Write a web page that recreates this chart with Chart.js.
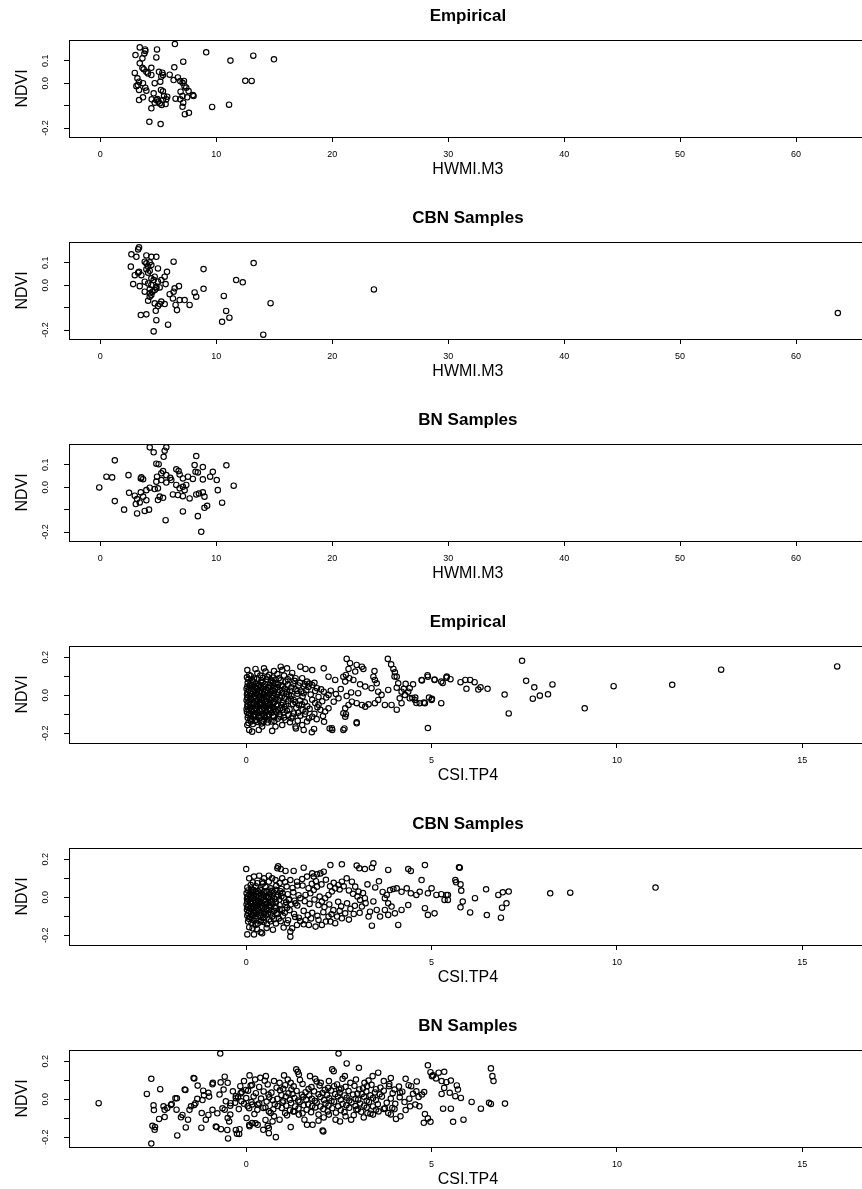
<!DOCTYPE html>
<html>
<head>
<meta charset="utf-8">
<script src="https://cdn.jsdelivr.net/npm/chart.js"></script>
<style>
    body { margin: 0; background: #ffffff; }
    #contenedor { width: 862px; height: 1189px; overflow: hidden; }
    canvas { display: block; }
</style>
</head>
<body>
<div id="contenedor">
    <canvas id="grafica1" width="872" height="202"></canvas>
    <canvas id="grafica2" width="872" height="202"></canvas>
    <canvas id="grafica3" width="872" height="202"></canvas>
    <canvas id="grafica4" width="872" height="202"></canvas>
    <canvas id="grafica5" width="872" height="202"></canvas>
    <canvas id="grafica6" width="872" height="202"></canvas>
</div>
<script>
// Titulos de cada panel
const titulos = ['Empirical', 'CBN Samples', 'BN Samples', 'Empirical', 'CBN Samples', 'BN Samples'];

// Ejes
const ticksHWMI = [0, 10, 20, 30, 40, 50, 60];
const ticksCSI = [0, 5, 10, 15];
const rangoHWMI = [-2.69, 66.1];
const rangoCSI = [-4.78, 16.74];
const ticksNdviSup = [-0.2, -0.1, 0.0, 0.1];
const etiquetasNdviSup = ['-0.2', '', '0.0', '0.1'];
const rangoNdviSup = [-0.24, 0.193];
const ticksNdviInf = [-0.2, -0.1, 0.0, 0.1, 0.2];
const etiquetasNdviInf = ['-0.2', '', '0.0', '', '0.2'];
const rangoNdviInf = [-0.252, 0.26];

// Puntos [HWMI.M3, NDVI]
const empiricoHWMI = [[3.41,0.160],[3.87,0.151],[3.89,0.144],[3.81,0.133],[3.04,0.126],[3.64,0.111],[4.90,0.151],[4.84,0.115],[6.44,0.175],[9.14,0.138],[7.16,0.096],[11.23,0.101],[13.20,0.123],[14.98,0.107],[3.41,0.089],[3.64,0.069],[3.75,0.062],[3.98,0.051],[4.12,0.044],[4.41,0.037],[2.98,0.046],[4.41,0.069],[5.07,0.051],[5.36,0.047],[5.27,0.029],[5.41,0.037],[6.39,0.071],[5.99,0.038],[3.21,0.022],[3.35,0.007],[3.24,-0.008],[3.69,0.000],[3.89,-0.020],[3.98,-0.033],[4.70,0.000],[5.18,0.007],[6.70,0.026],[6.90,0.010],[7.10,0.002],[7.22,0.010],[7.27,-0.013],[7.42,-0.020],[12.51,0.011],[13.06,0.010],[7.62,-0.035],[7.99,-0.053],[8.05,-0.057],[7.50,-0.063],[7.10,-0.057],[6.90,-0.072],[7.16,-0.087],[7.10,-0.105],[7.30,-0.138],[7.65,-0.132],[3.35,-0.075],[3.69,-0.063],[4.44,-0.072],[4.84,-0.075],[5.01,-0.082],[5.41,-0.075],[5.64,-0.093],[4.61,-0.045],[5.24,-0.030],[5.41,-0.036],[5.50,-0.057],[5.70,-0.072],[5.78,-0.060],[4.70,-0.087],[4.93,-0.071],[5.13,-0.090],[5.30,-0.097],[4.41,-0.112],[4.24,-0.172],[5.21,-0.182],[9.65,-0.106],[11.11,-0.096],[3.35,-0.030],[3.12,-0.013],[6.33,0.014],[6.93,-0.038],[6.50,-0.069]];

const cbnHWMI = [[3.35,0.169],[3.27,0.160],[2.69,0.138],[3.12,0.127],[3.98,0.133],[4.41,0.127],[4.84,0.127],[3.84,0.105],[3.98,0.098],[4.27,0.102],[4.13,0.083],[4.41,0.090],[6.33,0.105],[13.23,0.099],[8.91,0.072],[2.64,0.083],[3.98,0.071],[4.27,0.065],[4.98,0.075],[4.13,0.056],[5.76,0.060],[5.56,0.038],[2.98,0.045],[3.27,0.056],[3.55,0.045],[3.35,0.060],[4.41,0.031],[4.70,0.038],[4.61,0.023],[2.84,0.005],[3.41,-0.004],[4.13,0.008],[3.84,0.016],[4.41,0.001],[4.84,-0.007],[4.27,-0.018],[4.84,-0.014],[3.84,-0.029],[4.27,-0.036],[4.50,-0.029],[4.70,-0.021],[5.13,-0.010],[5.64,0.005],[5.27,0.023],[4.98,0.016],[4.27,-0.051],[4.41,-0.044],[4.13,-0.069],[4.70,-0.081],[5.13,-0.084],[5.27,-0.073],[5.56,-0.084],[4.98,-0.093],[5.99,-0.040],[6.33,-0.029],[6.42,-0.014],[6.79,-0.004],[6.27,-0.059],[6.85,-0.066],[7.28,-0.066],[6.50,-0.088],[6.62,-0.111],[7.71,-0.088],[8.14,-0.032],[8.28,-0.051],[8.91,-0.016],[3.50,-0.133],[3.98,-0.130],[4.79,-0.114],[4.84,-0.156],[5.85,-0.176],[4.61,-0.206],[10.66,-0.048],[11.72,0.023],[12.29,0.013],[10.86,-0.115],[11.14,-0.145],[10.51,-0.163],[14.69,-0.080],[14.06,-0.221],[23.60,-0.019],[63.60,-0.124]];

const bnHWMI = [[4.27,0.178],[4.61,0.156],[5.70,0.178],[5.56,0.163],[5.47,0.136],[1.26,0.120],[8.28,0.139],[10.88,0.098],[4.84,0.105],[5.04,0.103],[8.14,0.099],[8.85,0.090],[5.42,0.072],[5.27,0.062],[4.90,0.047],[5.70,0.054],[6.04,0.042],[6.56,0.080],[6.76,0.072],[6.85,0.057],[7.13,0.039],[7.57,0.047],[8.22,0.069],[8.42,0.066],[7.99,0.037],[0.54,0.047],[1.03,0.044],[2.44,0.054],[3.50,0.039],[3.70,0.036],[3.55,0.044],[9.71,0.069],[9.48,0.047],[10.05,0.032],[8.85,0.035],[-0.08,-0.001],[2.49,-0.025],[2.98,-0.038],[3.50,-0.023],[3.98,-0.013],[4.27,-0.002],[4.70,-0.008],[4.98,-0.005],[4.84,0.025],[5.27,0.032],[5.70,0.021],[6.13,0.032],[6.56,0.010],[6.85,-0.005],[7.13,0.002],[7.28,-0.013],[7.42,0.010],[6.27,-0.032],[6.70,-0.035],[7.13,-0.040],[7.71,-0.050],[8.28,-0.032],[8.51,-0.028],[8.85,-0.023],[8.99,-0.042],[10.14,-0.013],[11.51,0.007],[1.26,-0.062],[2.06,-0.100],[3.18,-0.053],[3.70,-0.042],[3.07,-0.075],[3.41,-0.068],[3.98,-0.058],[3.18,-0.117],[3.84,-0.106],[4.21,-0.100],[5.13,-0.042],[5.42,-0.047],[4.98,-0.057],[5.64,-0.147],[7.13,-0.108],[8.42,-0.129],[8.99,-0.092],[9.22,-0.083],[10.51,-0.069],[8.71,-0.199]];

// Puntos [CSI.TP4, NDVI]
const empiricoCSI = [
    [15.94,0.152],[12.81,0.135],[11.49,0.055],[9.91,0.048],[9.13,-0.069],[8.26,0.057],[8.14,0.005],[7.92,-0.002],[7.73,-0.018],[7.77,0.042],[7.55,0.076],[7.44,0.182],[7.08,-0.096],[6.97,0.004],[6.51,0.034],[6.32,0.042],[6.26,0.030],[6.16,0.069],[6.04,0.081],[5.91,0.081],[5.94,0.034],[5.78,0.069],[5.51,0.085],[5.41,0.099],[5.30,0.065],[5.08,0.083],[4.89,0.106],[4.74,0.078],[4.59,-0.041],[4.79,-0.039],[4.90,-0.173],[5.01,-0.019],[4.93,-0.012],[4.56,-0.012],[4.48,-0.014],[4.37,0.019],[4.30,0.060],[4.25,0.034],[4.06,-0.076],[4.00,0.099],
    [3.82,0.192],[3.91,0.163],[3.97,0.139],[4.01,0.121],[4.06,0.098],[3.46,0.128],[3.43,0.098],[3.47,0.081],[3.52,0.063],[2.71,0.192],[2.80,0.169],[2.98,0.160],[3.12,0.151],[3.16,0.139],[2.94,0.125],[2.76,0.139],[2.69,0.107],[2.78,0.090],[2.67,0.072],[2.89,0.081],[3.07,0.058],[3.21,0.046],[3.38,0.037],[3.56,0.019],[3.65,0.002],[3.83,0.028],[4.06,0.040],[4.19,0.019],[4.28,0.002],[4.41,-0.016],[4.55,-0.025],[4.68,-0.042],[4.82,-0.042],[5.00,-0.025],[5.26,-0.042],[4.73,0.081],[4.90,0.098],[5.08,0.081],[5.26,0.072],[5.40,0.093],[4.41,0.037],[4.50,0.058],[4.10,0.063],[4.14,-0.016],[4.19,-0.042],[3.74,-0.051],[3.92,-0.051],[3.56,-0.025],[3.47,-0.042],[3.30,-0.048],[3.21,-0.060],[3.12,-0.051],[2.98,-0.042],[2.85,-0.034],[2.76,-0.051],[2.67,-0.069],[2.62,-0.095],[2.67,-0.113],[2.98,-0.148],[2.62,-0.183],[2.31,-0.174],[2.22,-0.069],[2.13,-0.086],[2.00,-0.077],[1.78,-0.113],[1.69,-0.121],[1.64,-0.139],[1.60,-0.086],[1.42,-0.051],[1.28,-0.025],[1.15,0.002],[1.51,-0.157],[1.33,-0.165],[1.55,-0.183],[1.77,-0.195],[0.97,-0.157],[0.79,-0.165],[0.70,-0.188],[0.43,-0.165],[0.34,-0.183],[0.16,-0.192],[0.08,-0.183],[0.03,-0.157],[0.75,-0.113],[2.49,-0.016],[2.36,-0.034],[2.22,0.002],[2.09,0.019],[1.91,0.037],[1.78,0.054],[1.64,0.072],[1.51,0.090],[1.33,0.090],[1.19,0.098],[1.06,0.072],[0.88,0.090],[0.79,0.063],[0.66,0.081],[0.57,0.098],
    [0.03,0.133],[0.25,0.139],[0.48,0.142],[0.08,0.107],[0.30,0.116],[0.52,0.125],[0.75,0.128],[0.93,0.151],[0.97,0.133],[1.10,0.142],[1.46,0.151],[1.60,0.139],[1.78,0.133],[2.09,0.142],[2.22,0.098],[2.40,0.081],[2.62,0.098],[1.34,-0.175],[1.83,-0.178],[2.25,-0.175],[2.32,-0.183],[2.65,-0.175],[2.98,-0.143],[2.69,-0.100],
    [0.02,0.095],[0.12,0.102],[0.21,0.088],[0.38,0.104],[0.45,0.092],[0.62,0.108],[0.71,0.094],[0.84,0.112],[1.02,0.104],[1.24,0.118],
    [0.04,0.066],[0.11,0.058],[0.19,0.071],[0.27,0.062],[0.35,0.055],[0.44,0.068],[0.51,0.059],[0.63,0.052],[0.72,0.067],[0.86,0.058],[0.95,0.049],[1.12,0.055],[1.27,0.061],[1.41,0.052],[1.55,0.046],[1.70,0.062],
    [0.01,0.034],[0.07,0.028],[0.14,0.039],[0.22,0.025],[0.29,0.036],[0.37,0.021],[0.46,0.031],[0.54,0.026],[0.61,0.038],[0.69,0.022],[0.78,0.033],[0.91,0.027],[1.04,0.035],[1.18,0.024],[1.33,0.031],[1.48,0.019],[1.62,0.027],[1.86,0.022],[2.02,0.031],[2.28,0.024],[2.55,0.033],[2.83,0.015],
    [0.02,0.004],[0.09,-0.003],[0.16,0.008],[0.24,-0.006],[0.31,0.002],[0.40,-0.008],[0.47,0.006],[0.56,-0.002],[0.64,0.009],[0.73,-0.005],[0.82,0.003],[0.96,-0.007],[1.08,0.006],[1.22,-0.004],[1.38,0.008],[1.52,-0.006],[1.74,0.004],[1.95,-0.009],[2.16,-0.012],[2.42,0.006],[2.71,-0.004],[3.02,0.011],
    [0.01,-0.027],[0.06,-0.035],[0.13,-0.022],[0.20,-0.038],[0.28,-0.029],[0.36,-0.041],[0.43,-0.024],[0.52,-0.033],[0.59,-0.044],[0.67,-0.027],[0.76,-0.036],[0.87,-0.025],[0.99,-0.039],[1.13,-0.031],[1.26,-0.046],[1.45,-0.028],[1.58,-0.037],[1.86,-0.041],[2.05,-0.032],
    [0.03,-0.058],[0.10,-0.066],[0.17,-0.054],[0.25,-0.071],[0.32,-0.061],[0.39,-0.052],[0.48,-0.068],[0.55,-0.057],[0.63,-0.073],[0.71,-0.062],[0.81,-0.055],[0.92,-0.069],[1.03,-0.061],[1.17,-0.074],[1.35,-0.066],[1.52,-0.078],[1.71,-0.072],[1.92,-0.063],
    [0.02,-0.088],[0.08,-0.096],[0.15,-0.085],[0.23,-0.101],[0.30,-0.091],[0.38,-0.084],[0.45,-0.098],[0.53,-0.089],[0.61,-0.103],[0.69,-0.092],[0.80,-0.087],[0.90,-0.099],[1.01,-0.091],[1.14,-0.104],[1.29,-0.096],[1.46,-0.108],[1.84,-0.098],[2.07,-0.110],
    [0.04,-0.119],[0.11,-0.127],[0.19,-0.114],[0.27,-0.131],[0.35,-0.121],[0.43,-0.134],[0.51,-0.118],[0.60,-0.128],[0.68,-0.139],[0.85,-0.124],[1.06,-0.131],[1.22,-0.122],[1.39,-0.135],
    [0.06,-0.146],[0.18,-0.152],[0.29,-0.141],[0.41,-0.149],[0.58,-0.144],
    [0.06,0.084],[0.16,0.079],[0.29,0.086],[0.41,0.078],[0.55,0.083],[0.68,0.076],[0.79,0.082],[0.93,0.079],
    [0.03,0.046],[0.09,0.049],[0.16,0.052],[0.24,0.044],[0.32,0.048],[0.40,0.043],[0.49,0.047],[0.58,0.041],[0.66,0.045],[0.75,0.049],[0.84,0.042],[0.99,0.046],
    [0.04,0.016],[0.11,0.013],[0.18,0.019],[0.26,0.012],[0.34,0.017],[0.42,0.014],[0.50,0.018],[0.58,0.012],[0.66,0.016],[0.75,0.011],[0.86,0.017],[0.97,0.013],[1.10,0.018],
    [0.03,-0.013],[0.12,-0.016],[0.20,-0.011],[0.27,-0.017],[0.35,-0.012],[0.44,-0.015],[0.52,-0.011],[0.61,-0.016],[0.69,-0.013],[0.79,-0.018],[0.91,-0.012],[1.03,-0.016],
    [0.04,-0.046],[0.12,-0.049],[0.21,-0.044],[0.29,-0.048],[0.38,-0.045],[0.47,-0.050],[0.55,-0.046],[0.64,-0.049],[0.73,-0.044],[0.84,-0.048],[0.95,-0.052],[1.08,-0.047],
    [0.01,-0.074],[0.07,-0.078],[0.14,-0.073],[0.21,-0.080],[0.28,-0.076],[0.36,-0.079],[0.43,-0.074],[0.51,-0.081],[0.59,-0.077],[0.67,-0.079],[0.76,-0.074],[0.86,-0.080],[0.98,-0.076],
    [0.05,-0.106],[0.12,-0.109],[0.20,-0.104],[0.34,-0.108],[0.41,-0.112],[0.49,-0.106],[0.57,-0.111],[0.72,-0.107],[0.92,-0.113],
    [0.13,-0.138],[0.23,-0.134],[0.47,-0.139],[0.76,-0.136],
    [1.12,0.085],[1.30,0.076],[1.45,0.066],[1.58,0.058],[1.22,0.042],[1.38,0.022],[1.55,0.011],[1.68,0.044],[1.84,0.066],[1.20,-0.018],[1.32,-0.036],[1.50,-0.048],[1.65,-0.058],[1.78,-0.024],[1.95,-0.050],[1.10,-0.082],[1.25,-0.112],[1.40,-0.092],[1.58,-0.100],[1.90,-0.126],[2.10,-0.140],[1.02,-0.118],[1.18,-0.142]
];

const cbnCSI = [
    [0.00,0.149],[0.86,0.163],[0.84,0.153],[0.93,0.149],[1.06,0.139],[1.28,0.139],[1.55,0.156],[1.78,0.126],[1.91,0.121],[2.00,0.126],[2.09,0.135],[2.27,0.170],[2.58,0.174],[2.98,0.167],[3.05,0.153],[3.20,0.149],[3.43,0.179],[3.39,0.156],[3.83,0.144],[4.37,0.149],[4.44,0.139],[4.82,0.170],[4.73,0.091],
    [5.00,0.047],[4.90,0.021],[5.13,0.012],[5.26,0.016],[5.40,0.012],[5.35,-0.014],[4.68,0.029],[4.59,0.012],[4.44,0.021],[4.33,0.047],[4.19,0.029],[4.06,0.047],[3.97,0.044],[3.88,0.038],[3.79,0.012],[3.74,-0.005],[3.83,-0.032],[3.92,-0.049],[3.74,-0.067],[4.01,-0.085],[3.83,-0.093],[4.90,-0.093],[5.08,-0.085],[4.82,-0.058],[4.37,-0.041],[4.19,-0.067],[4.10,-0.146],[3.61,-0.102],[3.52,-0.067],[3.34,-0.076],[3.30,-0.102],[3.39,-0.150],[3.12,-0.049],[3.07,-0.014],[3.20,-0.005],[3.03,0.030],[2.94,0.056],[2.85,0.082],[2.71,0.100],[2.58,0.082],[2.49,0.065],[2.40,0.047],[2.31,0.030],[2.22,0.012],[2.13,-0.005],[2.04,-0.023],[1.95,-0.041],[2.67,-0.085],[2.58,-0.111],[2.45,-0.102],[2.40,-0.137],[2.27,-0.128],[2.22,-0.102],[2.04,-0.146],[1.95,-0.120],[1.87,-0.155],[1.69,-0.146],[1.55,-0.143],[1.46,-0.126],[1.37,-0.146],[1.24,-0.164],[1.10,-0.137],[1.01,-0.160],[1.19,-0.181],[1.19,-0.208],
    [0.43,-0.190],[0.39,-0.185],[0.21,-0.196],[0.03,-0.196],[0.17,-0.164],[0.25,-0.146],[0.39,-0.128],[0.70,-0.102],[0.84,-0.090],[0.61,-0.067],[0.79,-0.049],[0.97,-0.067],[1.06,-0.041],[1.15,-0.014],[1.33,-0.032],[1.46,-0.005],[1.60,0.012],[1.73,0.021],[1.82,0.038],[1.91,0.056],
    [0.08,0.100],[0.21,0.109],[0.35,0.114],[0.48,0.100],[0.61,0.114],[0.70,0.100],[0.43,0.082],[0.30,0.074],[0.12,0.065],[0.61,0.082],[0.79,0.091],[0.97,0.100],[1.19,0.091],[1.37,0.082],[1.51,0.096],[1.64,0.109],[1.82,0.109],
    [5.74,0.158],[5.76,0.156],[5.64,0.091],[5.66,0.079],[5.78,0.068],[5.80,0.035],[5.44,0.012],[5.44,-0.014],[5.84,-0.023],[5.78,-0.053],[6.04,-0.080],[6.17,-0.005],[6.47,0.042],[6.49,-0.094],[6.80,0.012],[6.92,0.026],[7.08,0.030],[7.02,-0.032],[6.90,-0.055],[6.87,-0.108],[8.20,0.021],[8.74,0.024],[11.04,0.051],
    [1.52,0.062],[1.68,0.048],[1.77,0.071],[1.88,0.085],[2.03,0.068],[2.15,0.092],[2.26,0.058],[2.36,0.076],[2.52,0.041],[2.63,0.058],[2.77,0.036],[2.88,0.018],[3.00,0.004],[3.15,0.022],[3.27,0.068],[3.48,0.052],[3.58,0.084],[3.68,0.028],[1.58,-0.021],[1.71,-0.035],[1.84,-0.012],[1.98,0.004],[2.11,-0.052],[2.24,-0.038],[2.35,-0.068],[2.48,-0.024],[2.56,-0.048],[2.72,-0.032],[2.81,-0.061],[2.93,-0.045],[3.06,-0.082],[3.22,-0.031],[3.43,-0.022],[1.55,-0.072],[1.66,-0.094],[1.78,-0.082],[1.92,-0.098],[2.08,-0.079],[2.30,-0.090],[2.52,-0.072],[2.77,-0.118],[2.90,-0.088],[1.42,-0.108],[1.60,-0.121],[1.75,-0.112],[2.15,-0.128],
    [0.03,0.052],[0.14,0.045],[0.26,0.058],[0.37,0.041],[0.52,0.055],[0.66,0.047],[0.81,0.060],[0.95,0.044],[1.09,0.057],[1.25,0.049],[1.38,0.062],
    [0.01,0.021],[0.09,0.015],[0.18,0.027],[0.27,0.018],[0.36,0.024],[0.45,0.012],[0.55,0.028],[0.64,0.017],[0.74,0.025],[0.86,0.013],[0.98,0.022],[1.12,0.016],[1.27,0.026],[1.41,0.011],
    [0.02,-0.008],[0.07,-0.015],[0.15,-0.004],[0.23,-0.012],[0.31,-0.019],[0.40,-0.006],[0.49,-0.014],[0.58,-0.003],[0.67,-0.017],[0.77,-0.009],[0.89,-0.013],[1.01,-0.002],[1.16,-0.011],[1.30,-0.018],
    [0.01,-0.038],[0.06,-0.046],[0.13,-0.033],[0.20,-0.049],[0.28,-0.040],[0.35,-0.031],[0.44,-0.045],[0.53,-0.036],[0.62,-0.048],[0.71,-0.034],[0.90,-0.042],[1.21,-0.037],[1.38,-0.044],
    [0.02,-0.066],[0.08,-0.074],[0.16,-0.062],[0.24,-0.078],[0.33,-0.068],[0.41,-0.059],[0.50,-0.076],[0.58,-0.087],[0.75,-0.072],[0.90,-0.064],[1.04,-0.082],[1.17,-0.068],[1.29,-0.088],
    [0.03,-0.097],[0.10,-0.105],[0.19,-0.093],[0.27,-0.111],[0.36,-0.100],[0.45,-0.109],[0.53,-0.095],[0.62,-0.117],[0.88,-0.112],[0.99,-0.098],[1.13,-0.121],[1.32,-0.104],
    [0.05,-0.128],[0.14,-0.136],[0.22,-0.124],[0.31,-0.139],[0.47,-0.131],[0.56,-0.142],[0.66,-0.127],[0.80,-0.138],[0.93,-0.126],
    [0.08,-0.158],[0.29,-0.168],[0.55,-0.162],[0.72,-0.171],
    [0.05,0.036],[0.12,0.032],[0.20,0.038],[0.31,0.033],[0.41,0.037],[0.49,0.031],[0.60,0.036],[0.70,0.034],[0.79,0.039],[0.92,0.032],
    [0.04,0.004],[0.11,0.001],[0.19,0.006],[0.27,0.002],[0.35,0.005],[0.44,0.000],[0.53,0.004],[0.62,0.001],[0.71,0.006],[0.82,0.002],[0.95,0.005],
    [0.03,-0.024],[0.10,-0.028],[0.18,-0.022],[0.26,-0.027],[0.33,-0.023],[0.42,-0.029],[0.51,-0.025],[0.60,-0.028],[0.69,-0.023],[0.80,-0.027],[1.08,-0.026],
    [0.04,-0.054],[0.11,-0.058],[0.19,-0.053],[0.27,-0.057],[0.37,-0.052],[0.46,-0.056],[0.55,-0.060],[0.66,-0.054],[0.80,-0.058],[1.10,-0.055],
    [0.05,-0.084],[0.13,-0.088],[0.21,-0.082],[0.30,-0.087],[0.39,-0.083],[0.48,-0.089],[0.66,-0.086],[0.82,-0.083],
    [0.07,-0.114],[0.17,-0.118],[0.40,-0.121],[0.75,-0.116],
    [0.18,0.078],[0.45,0.072],[0.90,0.075],[1.05,0.080]
];

const bnCSI = [
    [-3.98,-0.021],[-2.68,0.028],[-2.56,0.108],[-2.50,-0.032],[-2.49,-0.057],[-2.53,-0.140],[-2.46,-0.147],[-2.47,-0.161],[-2.56,-0.234],[-2.32,0.053],[-2.35,-0.104],[-2.23,-0.037],[-2.20,-0.094],[-2.13,-0.046],[-2.01,-0.025],[-1.91,0.005],[-1.86,-0.191],[-1.88,-0.055],[-1.66,0.051],[-1.72,-0.083],[-1.57,-0.108],[-1.63,-0.149],[-1.49,-0.037],[-1.37,-0.021],[-1.32,0.002],[-1.14,0.021],[-1.02,0.034],[-0.90,0.087],[-1.31,0.072],[-1.42,0.112],[-1.21,-0.150],[-1.09,-0.108],[-1.02,-0.083],[-1.20,-0.073],[-0.80,-0.147],[-0.68,-0.158],[-0.70,0.241],
    [-0.58,0.119],[-0.50,0.087],[-0.61,0.051],[-0.72,0.025],[-0.55,-0.011],[-0.43,-0.034],[-0.58,-0.055],[-0.43,-0.081],[-0.50,-0.099],[-0.46,-0.117],[-0.49,-0.207],[-0.25,-0.182],[-0.18,-0.158],[-0.36,0.042],[-0.16,0.069],[-0.06,0.096],[-0.28,0.016],[-0.13,-0.011],[0.01,-0.099],[0.09,-0.143],[0.16,-0.126],[0.31,-0.135],[0.46,-0.161],[0.61,-0.152],[0.61,-0.179],[0.80,-0.200],[0.58,-0.140],[0.71,-0.117],
    [2.49,0.241],[2.71,0.189],[2.32,0.158],[2.36,0.148],[1.35,0.158],[1.39,0.145],[1.42,0.131],[1.02,0.126],[1.12,0.104],[1.20,0.087],[0.90,0.087],[0.75,0.096],[0.53,0.122],[0.38,0.113],[0.24,0.104],[0.09,0.126],
    [1.72,0.122],[1.86,0.108],[2.01,0.087],[2.23,0.096],[2.37,0.069],[2.51,0.051],[2.66,0.122],[2.81,0.087],[2.96,0.104],[3.04,0.166],[3.19,0.087],[3.26,0.069],[3.41,0.122],[3.56,0.140],[3.71,0.096],[3.85,0.069],[4.00,0.051],[4.15,0.034],[4.30,0.108],[4.45,0.069],[4.59,0.042],[4.74,0.025],[4.90,0.179],[5.04,0.126],[5.19,0.140],[5.27,0.096],[5.34,0.060],[5.49,0.034],[5.64,0.016],[5.79,0.007],
    [4.97,0.143],[5.01,0.122],[5.12,0.110],[5.34,0.145],[5.52,0.099],[5.40,0.090],[5.27,0.028],[5.68,0.073],[5.71,0.051],[5.31,-0.050],[5.52,-0.050],[5.58,-0.119],[5.86,-0.108],[6.08,-0.014],[6.33,-0.050],[6.55,-0.019],[6.60,-0.025],[6.98,-0.023],[6.60,0.163],[6.64,0.122],[6.67,0.096],
    [4.56,-0.028],[4.67,-0.037],[4.82,-0.078],[4.90,-0.101],[4.97,-0.119],[4.79,-0.124],[4.42,-0.037],[4.30,-0.057],[4.16,-0.090],[4.04,-0.104],[3.94,-0.046],[3.83,-0.073],[3.71,-0.051],[3.57,-0.064],[3.42,-0.081],[3.27,-0.073],[3.17,-0.096],[2.97,-0.055],[2.83,-0.108],[2.68,-0.090],[2.53,-0.117],[2.41,-0.108],[2.23,-0.081],[2.09,-0.096],[1.95,-0.113],[1.79,-0.135],[1.57,-0.108],[1.42,-0.081],[1.27,-0.064],[1.05,-0.073],[0.90,-0.108],[0.75,-0.090],[0.61,-0.064],[0.46,-0.046],[0.31,-0.028],[0.16,-0.028],[0.04,-0.037],[2.06,-0.165],[2.08,-0.170],[1.20,-0.147],[1.64,-0.135],
    [-1.87,0.005],[-1.64,0.049],[-1.40,0.110],[-1.16,0.045],[-0.91,0.079],[-0.69,0.089],[-1.00,0.014],[-1.18,-0.004],[-1.40,-0.030],[-1.53,-0.056],[-1.76,-0.095],[-2.03,-0.030],[-2.20,-0.056],[-0.82,-0.144],[-0.51,-0.162],[-0.28,-0.162],[-0.19,-0.183],[0.08,-0.136],[0.25,-0.127],[0.52,-0.109],[-0.91,-0.056],[-0.78,-0.074],[-0.64,-0.048],[-0.42,-0.021],[-0.28,0.005],[-0.15,0.031],[-0.01,0.049],[0.16,0.075],
    [0.12,0.072],[0.35,0.065],[0.58,0.078],[0.82,0.061],[1.05,0.074],[1.28,0.068],[1.52,0.081],[1.76,0.064],[1.98,0.072],[2.21,0.060],[2.45,0.078],[2.68,0.066],[2.92,0.071],[3.15,0.058],[3.38,0.076],[3.62,0.062],[3.86,0.080],[4.12,0.067],[4.38,0.074],
    [-0.12,0.038],[0.05,0.045],[0.26,0.032],[0.47,0.041],[0.68,0.035],[0.91,0.047],[1.14,0.031],[1.36,0.044],[1.60,0.037],[1.83,0.042],[2.06,0.033],[2.29,0.046],[2.52,0.035],[2.76,0.043],[3.00,0.030],[3.24,0.041],[3.47,0.036],[3.71,0.045],[3.95,0.032],[4.21,0.040],[4.50,0.029],[4.80,0.038],
    [-0.22,0.012],[0.00,0.006],[0.20,0.015],[0.40,0.004],[0.62,0.011],[0.84,0.002],[1.07,0.014],[1.30,0.007],[1.54,0.013],[1.77,0.003],[2.00,0.012],[2.24,0.005],[2.47,0.015],[2.71,0.008],[2.95,0.002],[3.18,0.013],[3.42,0.006],[3.66,0.014],[3.90,0.004],[4.14,0.011],[4.40,0.003],[4.65,0.012],
    [-0.30,-0.018],[-0.06,-0.024],[0.14,-0.015],[0.35,-0.022],[0.55,-0.012],[0.77,-0.026],[0.98,-0.017],[1.21,-0.021],[1.44,-0.014],[1.67,-0.027],[1.90,-0.018],[2.14,-0.023],[2.37,-0.013],[2.60,-0.025],[2.84,-0.016],[3.07,-0.022],[3.31,-0.014],[3.55,-0.026],[3.79,-0.019],[4.02,-0.024],[4.27,-0.015],
    [-0.20,-0.052],[0.08,-0.047],[0.30,-0.056],[0.52,-0.044],[0.73,-0.053],[0.96,-0.046],[1.18,-0.058],[1.41,-0.049],[1.63,-0.055],[1.86,-0.043],[2.08,-0.052],[2.32,-0.047],[2.55,-0.058],[2.78,-0.045],[3.01,-0.053],[3.25,-0.044],[3.50,-0.055],[3.74,-0.048],[4.00,-0.052],
    [0.22,-0.078],[0.66,-0.072],[1.10,-0.085],[1.52,-0.074],[1.95,-0.081],[2.42,-0.071],[2.90,-0.084],[3.35,-0.076],[3.90,-0.080],
    [0.50,0.098],[1.45,0.102],[1.90,0.094],[2.60,0.108],[3.30,0.099],[3.90,0.112],[4.60,0.094],
    [0.60,0.025],[0.95,0.022],[1.25,0.028],[1.50,0.024],[1.70,0.020],[1.95,0.026],[2.18,0.022],[2.40,0.027],[2.65,0.020],[2.88,0.025],[3.12,0.028],[3.35,0.021],[3.60,0.026],
    [0.72,-0.005],[1.00,-0.008],[1.18,-0.003],[1.40,-0.007],[1.62,-0.002],[1.85,-0.008],[2.10,-0.004],[2.30,-0.009],[2.55,-0.003],[2.78,-0.007],[3.02,-0.002],[3.25,-0.008],[3.50,-0.004],
    [0.85,-0.036],[1.08,-0.034],[1.32,-0.038],[1.55,-0.032],[1.78,-0.036],[2.00,-0.038],[2.22,-0.033],[2.48,-0.037],[2.70,-0.032],[2.95,-0.036],[3.18,-0.034],[3.42,-0.038],
    [1.00,0.055],[1.22,0.052],[1.68,0.054],[2.12,0.050],[2.56,0.056],[3.05,0.052],[3.50,0.053],
    [1.30,-0.065],[1.75,-0.068],[2.20,-0.064],[2.65,-0.068],[3.10,-0.066]
];

const fuente = 'Liberation Sans, Arial, Helvetica, sans-serif';

// Caja completa alrededor del area de la grafica (como box() de R)
const marco = {
    id: 'marco',
    afterDraw: function (chart) {
        const ctx = chart.ctx;
        const a = chart.chartArea;
        ctx.save();
        ctx.strokeStyle = '#000000';
        ctx.lineWidth = 1;
        ctx.strokeRect(Math.round(a.left) + 0.5, Math.round(a.top) + 0.5, Math.round(a.right - a.left), Math.round(a.bottom - a.top));
        ctx.restore();
    }
};

const Vista = {
    dibujarPanel: function (idCanvas, titulo, nombreX, puntos, rangoX, ticksX, rangoY, ticksY, etiquetasY) {
        const canvas = document.getElementById(idCanvas);
        new Chart(canvas, {
            type: 'scatter',
            data: {
                datasets: [{
                    data: puntos.map(p => ({ x: p[0], y: p[1] })),
                    pointStyle: 'circle',
                    pointRadius: 2.7,
                    borderWidth: 1.15,
                    borderColor: '#000000',
                    backgroundColor: 'rgba(0,0,0,0)'
                }]
            },
            options: {
                responsive: false,
                devicePixelRatio: 1,
                animation: false,
                events: [],
                layout: { padding: { left: 0, right: 1, top: 0, bottom: 0 } },
                plugins: {
                    legend: { display: false },
                    tooltip: { enabled: false },
                    title: {
                        display: true,
                        text: titulo,
                        fullSize: false,
                        color: '#000000',
                        font: { family: fuente, size: 17, weight: 'bold' },
                        padding: { top: 6, bottom: 13.6 }
                    }
                },
                scales: {
                    x: {
                        type: 'linear',
                        min: rangoX[0],
                        max: rangoX[1],
                        afterBuildTicks: function (s) { s.ticks = ticksX.map(v => ({ value: v })); },
                        afterFit: function (s) { s.height = 65; },
                        grid: { drawOnChartArea: false, drawTicks: true, tickLength: 5, color: '#000000' },
                        border: { display: true, color: '#000000' },
                        ticks: {
                            color: '#000000',
                            font: { family: fuente, size: 9 },
                            padding: 7,
                            maxRotation: 0,
                            autoSkip: false,
                            callback: function (v) { return String(v); }
                        },
                        title: {
                            display: true,
                            text: nombreX,
                            color: '#000000',
                            font: { family: fuente, size: 16 },
                            padding: { top: 0, bottom: 23 }
                        }
                    },
                    y: {
                        type: 'linear',
                        min: rangoY[0],
                        max: rangoY[1],
                        afterBuildTicks: function (s) { s.ticks = ticksY.map(v => ({ value: v })); },
                        afterFit: function (s) { s.width = 69; },
                        grid: { drawOnChartArea: false, drawTicks: true, tickLength: 5, color: '#000000' },
                        border: { display: true, color: '#000000' },
                        ticks: {
                            color: '#000000',
                            font: { family: fuente, size: 9 },
                            padding: 11,
                            minRotation: 90,
                            maxRotation: 90,
                            crossAlign: 'center',
                            autoSkip: false,
                            callback: function (v) {
                                const i = ticksY.findIndex(t => Math.abs(t - v) < 1e-6);
                                return i >= 0 ? etiquetasY[i] : '';
                            }
                        },
                        title: {
                            display: true,
                            text: 'NDVI',
                            color: '#000000',
                            font: { family: fuente, size: 16 },
                            padding: { top: 13, bottom: 0 }
                        }
                    }
                }
            },
            plugins: [marco]
        });
    }
};

document.addEventListener('DOMContentLoaded', function () {
    Vista.dibujarPanel('grafica1', titulos[0], 'HWMI.M3', empiricoHWMI, rangoHWMI, ticksHWMI, rangoNdviSup, ticksNdviSup, etiquetasNdviSup);
    Vista.dibujarPanel('grafica2', titulos[1], 'HWMI.M3', cbnHWMI, rangoHWMI, ticksHWMI, rangoNdviSup, ticksNdviSup, etiquetasNdviSup);
    Vista.dibujarPanel('grafica3', titulos[2], 'HWMI.M3', bnHWMI, rangoHWMI, ticksHWMI, rangoNdviSup, ticksNdviSup, etiquetasNdviSup);
    Vista.dibujarPanel('grafica4', titulos[3], 'CSI.TP4', empiricoCSI, rangoCSI, ticksCSI, rangoNdviInf, ticksNdviInf, etiquetasNdviInf);
    Vista.dibujarPanel('grafica5', titulos[4], 'CSI.TP4', cbnCSI, rangoCSI, ticksCSI, rangoNdviInf, ticksNdviInf, etiquetasNdviInf);
    Vista.dibujarPanel('grafica6', titulos[5], 'CSI.TP4', bnCSI, rangoCSI, ticksCSI, rangoNdviInf, ticksNdviInf, etiquetasNdviInf);
});
</script>
</body>
</html>
